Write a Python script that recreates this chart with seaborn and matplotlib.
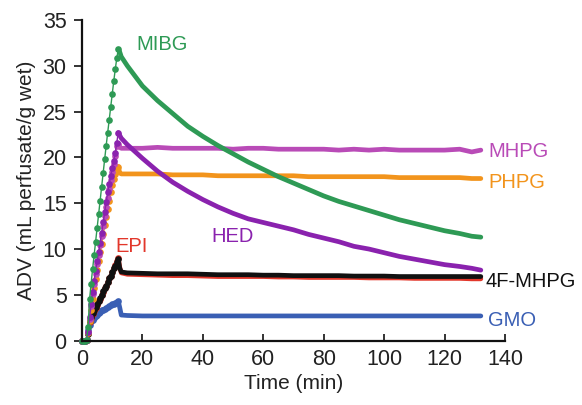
import matplotlib
matplotlib.use("Agg")
import matplotlib.pyplot as plt
import seaborn as sns
import pandas as pd

# Sampling times (min): loading phase and washout phase
t_rise = [0, 0.5, 1, 1.5, 2, 2.5, 3, 3.5, 4, 4.5, 5, 5.5, 6, 6.5, 7, 7.5,
          8, 8.5, 9, 9.5, 10, 10.5, 11, 11.5, 12]
t_tail = [12, 12.5, 13, 15, 20, 25, 30, 35, 40, 45, 50, 55, 60, 65, 70, 75,
          80, 85, 90, 95, 100, 105, 110, 115, 120, 125, 129, 132]

# ADV (mL perfusate / g wet) for each tracer
mibg_rise = [0, 0, 0, 0.1, 1.5, 4.5, 6.2, 7.8, 9.3, 10.8, 12.3, 13.8, 15.3, 16.8,
             18.3, 19.8, 21.3, 22.7, 24.1, 25.5, 26.9, 28.3, 29.6, 30.8, 31.8]
mibg_tail = [31.8, 31.5, 31.0, 30.0, 27.8, 26.2, 24.8, 23.4, 22.3, 21.3, 20.4, 19.5,
             18.7, 17.9, 17.2, 16.5, 15.8, 15.2, 14.7, 14.2, 13.7, 13.2, 12.8, 12.4,
             12.0, 11.7, 11.4, 11.3]

mhpg_rise = [0, 0, 0, 0.1, 0.9, 2.4, 3.8, 5.1, 6.2, 7.3, 8.4, 9.4, 10.4, 11.4,
             12.5, 13.6, 14.6, 15.6, 16.6, 17.5, 18.4, 19.3, 20.2, 21.3, 21.5]
mhpg_tail = [21.5, 21.1, 21.0, 21.0, 21.0, 21.1, 21.0, 21.0, 21.0, 21.0, 20.9, 21.0,
             21.0, 20.9, 20.9, 20.9, 20.9, 20.8, 20.9, 20.8, 20.9, 20.8, 20.8, 20.8,
             20.8, 20.9, 20.6, 20.8]

hed_rise = [0, 0, 0, 0.1, 1.0, 2.6, 4.0, 5.3, 6.5, 7.6, 8.7, 9.7, 10.7, 11.8,
            12.9, 14.0, 15.1, 16.2, 17.1, 18.0, 18.8, 19.6, 20.5, 21.6, 22.7]
hed_tail = [22.7, 22.4, 22.1, 21.4, 19.9, 18.5, 17.3, 16.3, 15.4, 14.6, 13.9, 13.3,
            12.9, 12.5, 12.1, 11.6, 11.2, 10.8, 10.3, 10.0, 9.6, 9.2, 8.9, 8.6,
            8.3, 8.1, 7.9, 7.7]

phpg_rise = [0, 0, 0, 0.1, 0.8, 2.2, 3.4, 4.6, 5.7, 6.7, 7.7, 8.7, 9.7, 10.6,
             11.6, 12.6, 13.5, 14.4, 15.3, 16.2, 17.0, 17.7, 18.2, 18.8, 19.0]
phpg_tail = [19.0, 18.3, 18.2, 18.2, 18.2, 18.2, 18.1, 18.1, 18.1, 18.0, 18.0, 18.0,
             18.0, 18.0, 18.0, 17.9, 17.9, 17.9, 17.9, 17.9, 17.9, 17.8, 17.8, 17.8,
             17.8, 17.8, 17.7, 17.7]

epi_rise = [0, 0, 0, 0.1, 0.8, 2.0, 2.5, 2.9, 3.2, 3.6, 3.9, 4.3, 4.6, 5.0,
            5.3, 5.7, 6.0, 6.4, 6.8, 7.1, 7.5, 7.9, 8.3, 8.7, 9.0]
epi_tail = [9.0, 8.0, 7.4, 7.25, 7.2, 7.15, 7.1, 7.1, 7.05, 7.0, 7.0, 7.0,
            7.0, 6.95, 6.95, 6.9, 6.9, 6.9, 6.9, 6.85, 6.85, 6.85, 6.8, 6.8,
            6.8, 6.8, 6.75, 6.75]

fmhpg_rise = [0, 0, 0, 0.1, 0.7, 2.2, 2.6, 3.0, 3.3, 3.7, 4.0, 4.3, 4.7, 5.0,
              5.4, 5.7, 6.0, 6.4, 6.8, 7.1, 7.5, 7.9, 8.2, 8.6, 8.9]
fmhpg_tail = [8.9, 7.9, 7.5, 7.4, 7.35, 7.3, 7.3, 7.3, 7.25, 7.2, 7.2, 7.2,
              7.15, 7.15, 7.1, 7.1, 7.1, 7.1, 7.05, 7.05, 7.05, 7.0, 7.0, 7.0,
              7.0, 7.0, 7.0, 7.0]

gmo_rise = [0, 0, 0, 0.1, 1.2, 1.7, 2.1, 2.3, 2.5, 2.7, 2.85, 3.0, 3.15, 3.3,
            3.4, 3.5, 3.6, 3.7, 3.8, 3.9, 4.0, 4.05, 4.15, 4.25, 4.3]
gmo_tail = [4.3, 3.6, 2.8, 2.75, 2.7, 2.7, 2.7, 2.7, 2.7, 2.7, 2.7, 2.7,
            2.7, 2.7, 2.7, 2.7, 2.7, 2.7, 2.7, 2.7, 2.7, 2.7, 2.7, 2.7,
            2.7, 2.7, 2.7, 2.7]

names = ["GMO", "EPI", "4F-MHPG", "PHPG", "MHPG", "HED", "MIBG"]
colors = ["#3a5fb4", "#e2372b", "#111111", "#f2941c", "#b94bb7", "#8a22ae", "#2e9a55"]
rises = [gmo_rise, epi_rise, fmhpg_rise, phpg_rise, mhpg_rise, hed_rise, mibg_rise]
tails = [gmo_tail, epi_tail, fmhpg_tail, phpg_tail, mhpg_tail, hed_tail, mibg_tail]

# Label anchors (time, ADV) in data units
label_x = [134.4, 11.2, 133.4, 134.4, 134.4, 42.9, 17.9]
label_y = [2.25, 10.3, 6.5, 17.3, 20.7, 11.4, 32.3]

sns.set_theme(style="ticks")
plt.rcParams["font.family"] = ["Liberation Sans", "DejaVu Sans"]

fig = plt.figure(figsize=(5.82, 4.05), dpi=100)
ax = fig.add_axes([0.1409, 0.1588, 0.7268, 0.7918])

for name, col, r, tl in zip(names, colors, rises, tails):
    d_r = pd.DataFrame({"t": t_rise, "v": r})
    d_t = pd.DataFrame({"t": t_tail, "v": tl})
    sns.lineplot(data=d_r, x="t", y="v", ax=ax, color=col, lw=1.0,
                 marker="o", markersize=4.8, markeredgewidth=0,
                 estimator=None, clip_on=False)
    sns.lineplot(data=d_t, x="t", y="v", ax=ax, color=col, lw=3.4,
                 estimator=None, clip_on=False)

for name, col, lx, ly in zip(names, colors, label_x, label_y):
    ax.text(lx, ly, name, color=col, fontsize=14.5, ha="left", va="center",
            clip_on=False)

ax.set_xlim(0, 140)
ax.set_ylim(0, 35)
ax.set_xticks([0, 20, 40, 60, 80, 100, 120, 140])
ax.set_yticks([0, 5, 10, 15, 20, 25, 30, 35])
ax.set_xlabel("Time (min)", fontsize=15, color="#222222", labelpad=3)
ax.set_ylabel("ADV (mL perfusate/g wet)", fontsize=15, color="#222222", labelpad=5)

sns.despine(ax=ax)
for side in ("left", "bottom"):
    ax.spines[side].set_linewidth(1.6)
    ax.spines[side].set_color("#111111")
ax.tick_params(axis="x", direction="in", length=5, width=1.2, labelsize=15.5,
               colors="#111111", labelcolor="#222222", pad=6)
ax.tick_params(axis="y", direction="out", length=6, width=1.2, labelsize=15.5,
               colors="#111111", labelcolor="#222222", pad=5)

fig.savefig("out.png", dpi=100)
